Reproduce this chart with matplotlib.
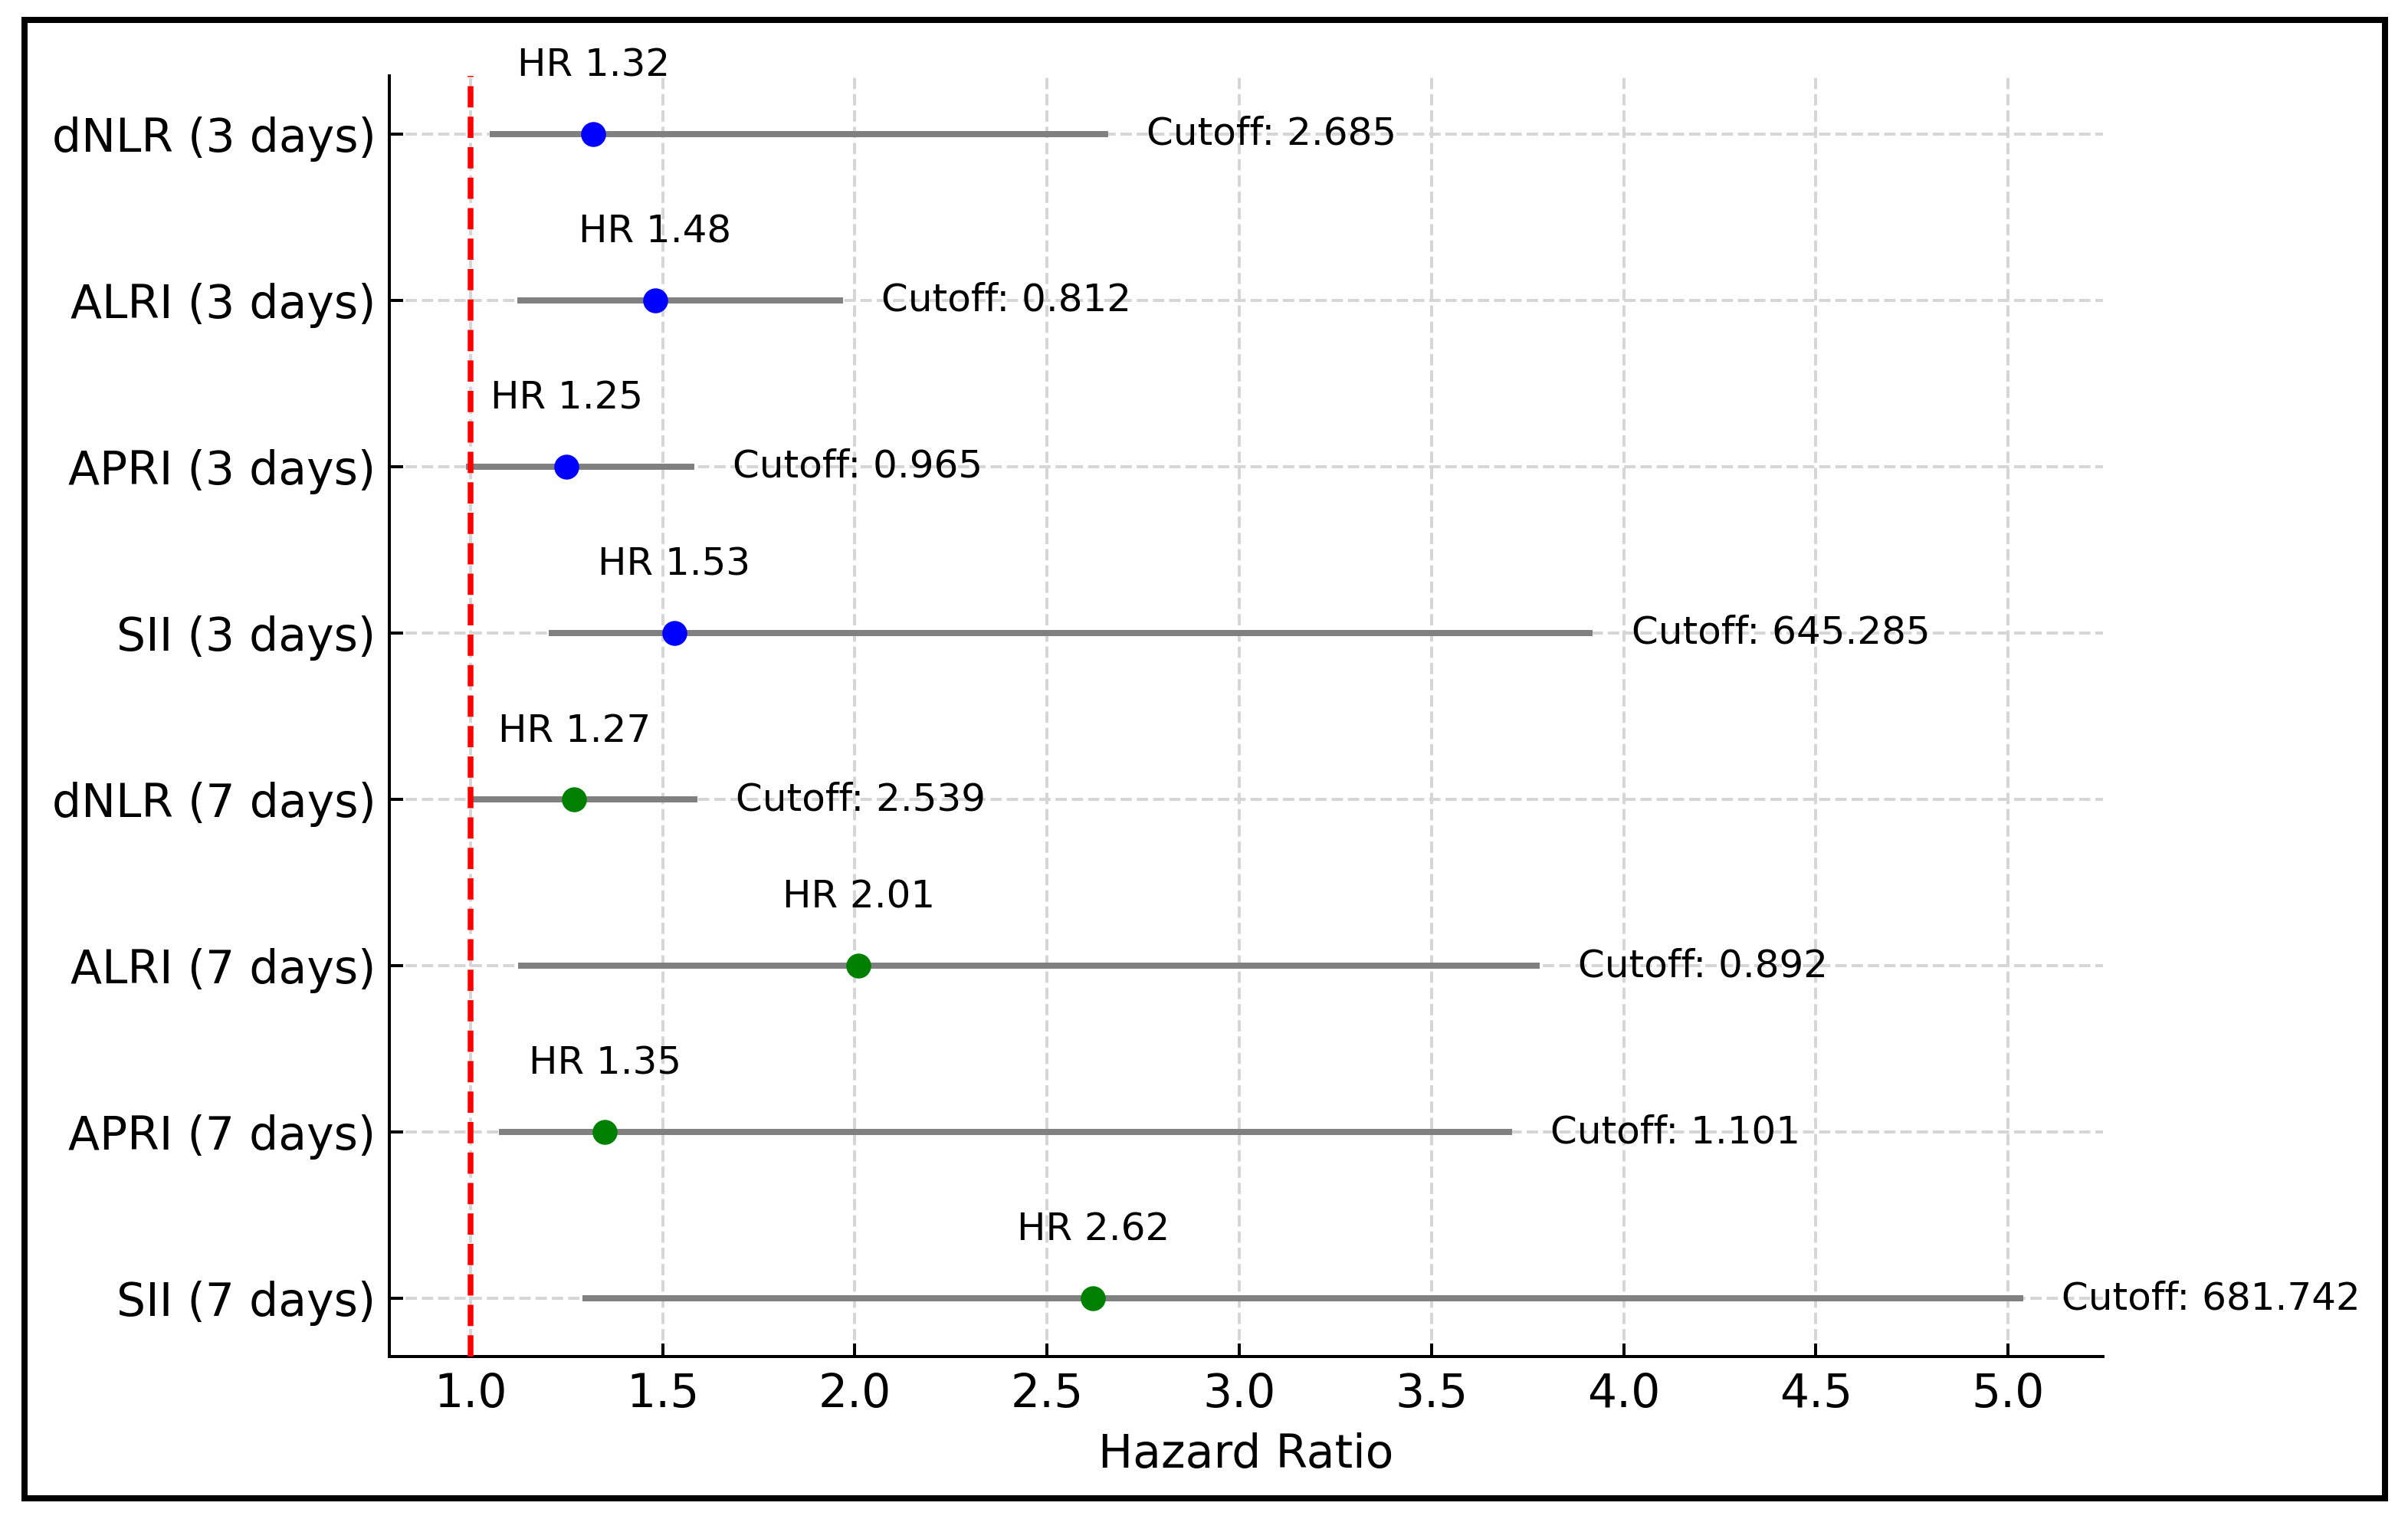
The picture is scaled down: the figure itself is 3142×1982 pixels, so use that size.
import matplotlib
matplotlib.use("Agg")
import matplotlib.pyplot as plt
from matplotlib.patches import Rectangle

# ---- data ----
labels = ["dNLR (3 days)", "ALRI (3 days)", "APRI (3 days)", "SII (3 days)",
          "dNLR (7 days)", "ALRI (7 days)", "APRI (7 days)", "SII (7 days)"]
hr = [1.32, 1.48, 1.25, 1.53, 1.27, 2.01, 1.35, 2.62]
ci_lower = [1.050, 1.122, 0.988, 1.203, 1.000, 1.123, 1.074, 1.291]
ci_upper = [2.659, 1.969, 1.582, 3.920, 1.590, 3.781, 3.710, 5.040]
cutoffs = ["2.685", "0.812", "0.965", "645.285", "2.539", "0.892", "1.101", "681.742"]
point_colors = ["blue", "blue", "blue", "blue", "green", "green", "green", "green"]
xticks = [1.0, 1.5, 2.0, 2.5, 3.0, 3.5, 4.0, 4.5, 5.0]

DPI = 360
fig = plt.figure(figsize=(3142 / DPI, 1982 / DPI), dpi=DPI)
ax = fig.add_axes([0.16168, 0.10696, 0.87333 - 0.16168, 0.95005 - 0.10696])

ypos = list(range(len(labels)))

ax.grid(True, linestyle="--", linewidth=0.8, color="#d6d6d6", zorder=0)
ax.set_axisbelow(True)

ax.hlines(ypos, ci_lower, ci_upper, color="gray", linewidth=1.6, zorder=2)
for y, h, c in zip(ypos, hr, point_colors):
    ax.plot([h], [y], "o", color=c, markersize=5.5, zorder=3)
    ax.text(h, y - 0.3, f"HR {h:.2f}", ha="center", va="bottom", fontsize=10)
for y, u, cut in zip(ypos, ci_upper, cutoffs):
    ax.text(u + 0.1, y, f"Cutoff: {cut}", ha="left", va="center", fontsize=10)

ax.axvline(1.0, color="red", linestyle="--", linewidth=1.5, zorder=4)

ax.set_yticks(ypos)
ax.set_yticklabels(labels, fontsize=12)
ax.set_xticks(xticks)
ax.set_xticklabels([f"{t:.1f}" for t in xticks], fontsize=12)
ax.set_xlim(0.789, 5.247)
ax.set_ylim(len(labels) - 1 + 0.35, -0.35)
ax.set_xlabel("Hazard Ratio", fontsize=12)

ax.tick_params(axis="both", direction="in", length=3.5)
ax.tick_params(axis="x", pad=4)
ax.spines["top"].set_visible(False)
ax.spines["right"].set_visible(False)

# outer border around the whole figure
fig.patches.append(Rectangle((0.01034, 0.01362), 0.99061 - 0.01034, 0.98688 - 0.01362,
                             transform=fig.transFigure, fill=False,
                             edgecolor="black", linewidth=1.6))

fig.savefig("out.png", dpi=DPI)
